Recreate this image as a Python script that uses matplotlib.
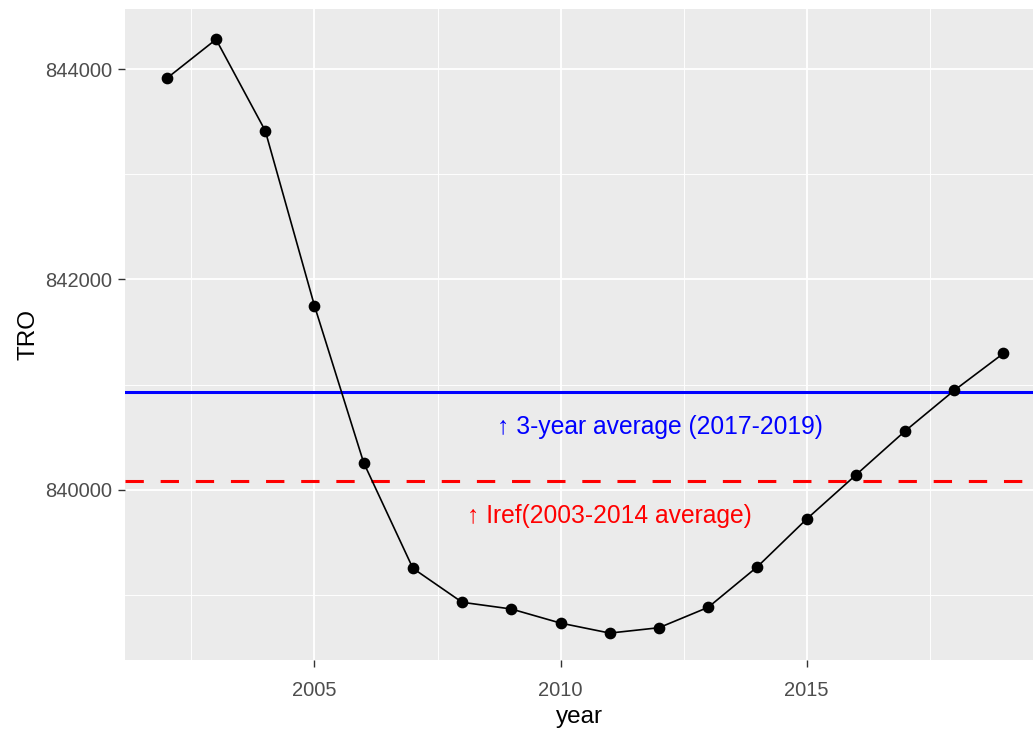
import matplotlib
matplotlib.use("Agg")
import matplotlib.pyplot as plt
import numpy as np

plt.rcParams['font.family'] = ['Liberation Sans', 'DejaVu Sans']

years = [2002, 2003, 2004, 2005, 2006, 2007, 2008, 2009, 2010,
         2011, 2012, 2013, 2014, 2015, 2016, 2017, 2018, 2019]
tro = [843912, 844282, 843413, 841749, 840256, 839252, 838929, 838865, 838731,
       838636, 838687, 838881, 839267, 839720, 840139, 840557, 840944, 841296]

avg3_label = "\u2191 3-year average (2017-2019)"
iref_label = "\u2191 Iref(2003-2014 average)"
yticks = [840000, 842000, 844000]
xticks = [2005, 2010, 2015]

yr = np.array(years)
v = np.array(tro)
avg3 = v[(yr >= 2017) & (yr <= 2019)].mean()
iref = v[(yr >= 2003) & (yr <= 2014)].mean()

fig = plt.figure(figsize=(10.33, 7.29), dpi=100)
ax = fig.add_axes([125/1033, 1 - 660/729, 1 - 125/1033, (660 - 9)/729])
ax.set_facecolor('#EBEBEB')
for s in ax.spines.values():
    s.set_visible(False)

ax.set_xlim(2001.15, 2019.6)
ax.set_ylim(838380, 844571)
ax.set_xticks(xticks)
ax.set_yticks(yticks)
ax.set_xticks([2002.5, 2007.5, 2012.5, 2017.5], minor=True)
ax.set_yticks([839000, 841000, 843000], minor=True)
ax.set_yticklabels([str(t) for t in yticks])
ax.grid(True, which='major', color='white', linewidth=1.3)
ax.grid(True, which='minor', color='white', linewidth=0.65)
ax.set_axisbelow(True)
ax.tick_params(which='major', length=5, width=1.0, color='#333333',
               labelsize=14.5, labelcolor='#4D4D4D')
ax.tick_params(axis='x', pad=10)
ax.tick_params(axis='y', pad=4.5)
ax.tick_params(which='minor', length=0)

ax.plot(years, tro, color='black', linewidth=1.2, zorder=3)
ax.scatter(years, tro, s=55, color='black', zorder=4)

ax.axhline(avg3, color='blue', linewidth=2.2, zorder=2)
ax.axhline(iref, color='red', linewidth=2.2, linestyle=(0, (6, 5.5)), zorder=2)

ax.text(2012.02, 840595, avg3_label, color='blue', fontsize=17.7,
        ha='center', va='center')
ax.text(2011.0, 839749, iref_label, color='red', fontsize=17.7,
        ha='center', va='center')

ax.set_xlabel('year', fontsize=17.5, labelpad=4.5)
ax.set_ylabel('TRO', fontsize=17.5, labelpad=4)

fig.savefig('out.png', dpi=100)
